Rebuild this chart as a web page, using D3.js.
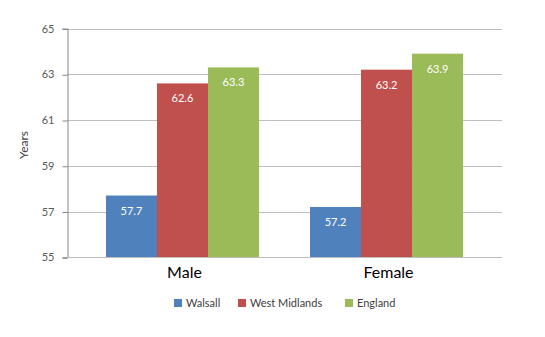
<!DOCTYPE html>
<html>
<head>
<meta charset="utf-8">
<script src="https://cdn.jsdelivr.net/npm/d3@7/dist/d3.min.js"></script>
<style>
  html, body { margin: 0; padding: 0; background: #fff; }
  svg { display: block; }
  text { font-family: Lato, "Open Sans", "DejaVu Sans", sans-serif; }
</style>
</head>
<body>
<svg id="chart" width="545" height="337"></svg>
<script>
// Healthy life expectancy by sex, in years
const categories = ["Male", "Female"];
const seriesNames = ["Walsall", "West Midlands", "England"];
const walsall = [57.7, 57.2];
const westMidlands = [62.6, 63.2];
const england = [63.3, 63.9];
const yTicks = [55, 57, 59, 61, 63, 65];
const colors = ["#4F81BD", "#C0504D", "#9BBB59"];

const seriesValues = [walsall, westMidlands, england];

const svg = d3.select("#chart");
const plot = { left: 67, right: 502, top: 28.5, bottom: 257.3 };

const y = d3.scaleLinear().domain([55, 65]).range([plot.bottom, plot.top]);

const x0 = d3.scaleBand()
  .domain(categories)
  .range([plot.left, plot.right])
  .paddingInner(0.25)
  .paddingOuter(0.191);

const x1 = d3.scaleBand()
  .domain(seriesNames)
  .range([0, x0.bandwidth()])
  .padding(0);

// Horizontal gridlines
svg.append("g")
  .selectAll("line")
  .data(yTicks.filter(t => t !== 55))
  .join("line")
  .attr("x1", plot.left)
  .attr("x2", plot.right)
  .attr("y1", d => Math.round(y(d)) + 0.5)
  .attr("y2", d => Math.round(y(d)) + 0.5)
  .attr("stroke", "#BEBEBE")
  .attr("stroke-width", 1);

// Y axis
const yAxis = d3.axisLeft(y)
  .tickValues(yTicks)
  .tickSize(5)
  .tickPadding(8)
  .tickFormat(d3.format("d"));

const gy = svg.append("g")
  .attr("transform", `translate(${plot.left + 0.5},0)`)
  .call(yAxis);
gy.select(".domain").attr("stroke", "#868686");
gy.selectAll(".tick line").attr("stroke", "#868686").attr("transform", "translate(0,0.5)");
gy.selectAll(".tick text")
  .attr("fill", "#595959")
  .style("font-size", "11px");

// Bars
const groups = svg.append("g")
  .selectAll("g")
  .data(categories)
  .join("g")
  .attr("transform", d => `translate(${x0(d)},0)`);

groups.selectAll("rect")
  .data((c, i) => seriesNames.map((s, j) => ({ series: s, value: seriesValues[j][i], color: colors[j] })))
  .join("rect")
  .attr("x", d => x1(d.series))
  .attr("width", x1.bandwidth())
  .attr("y", d => y(d.value))
  .attr("height", d => y(55) - y(d.value))
  .attr("fill", d => d.color);

groups.selectAll("text.value")
  .data((c, i) => seriesNames.map((s, j) => ({ series: s, value: seriesValues[j][i] })))
  .join("text")
  .attr("class", "value")
  .attr("x", d => x1(d.series) + x1.bandwidth() / 2)
  .attr("y", d => y(d.value) + 19)
  .attr("text-anchor", "middle")
  .attr("fill", "#ffffff")
  .style("font-size", "11px")
  .text(d => d3.format(".1f")(d.value));

// X axis baseline
svg.append("line")
  .attr("x1", plot.left)
  .attr("x2", plot.right)
  .attr("y1", Math.round(plot.bottom) + 0.5)
  .attr("y2", Math.round(plot.bottom) + 0.5)
  .attr("stroke", "#BEBEBE");

// Category labels
svg.append("g")
  .selectAll("text")
  .data(categories)
  .join("text")
  .attr("x", d => x0(d) + x0.bandwidth() / 2 + 2)
  .attr("y", 278)
  .attr("text-anchor", "middle")
  .attr("fill", "#000")
  .style("font-size", "16px")
  .text(d => d);

// Y axis title
svg.append("text")
  .attr("transform", "translate(28,145) rotate(-90)")
  .attr("text-anchor", "middle")
  .attr("fill", "#404040")
  .style("font-size", "12px")
  .text("Years");

// Legend
const legendX = [174, 238, 345];
const legend = svg.append("g")
  .selectAll("g")
  .data(seriesNames)
  .join("g")
  .attr("transform", (d, i) => `translate(${legendX[i]},299)`);
legend.append("rect")
  .attr("width", 8)
  .attr("height", 8)
  .attr("fill", (d, i) => colors[i]);
legend.append("text")
  .attr("x", 12)
  .attr("y", 8)
  .attr("fill", "#404040")
  .style("font-size", "11px")
  .text(d => d);
</script>
</body>
</html>
